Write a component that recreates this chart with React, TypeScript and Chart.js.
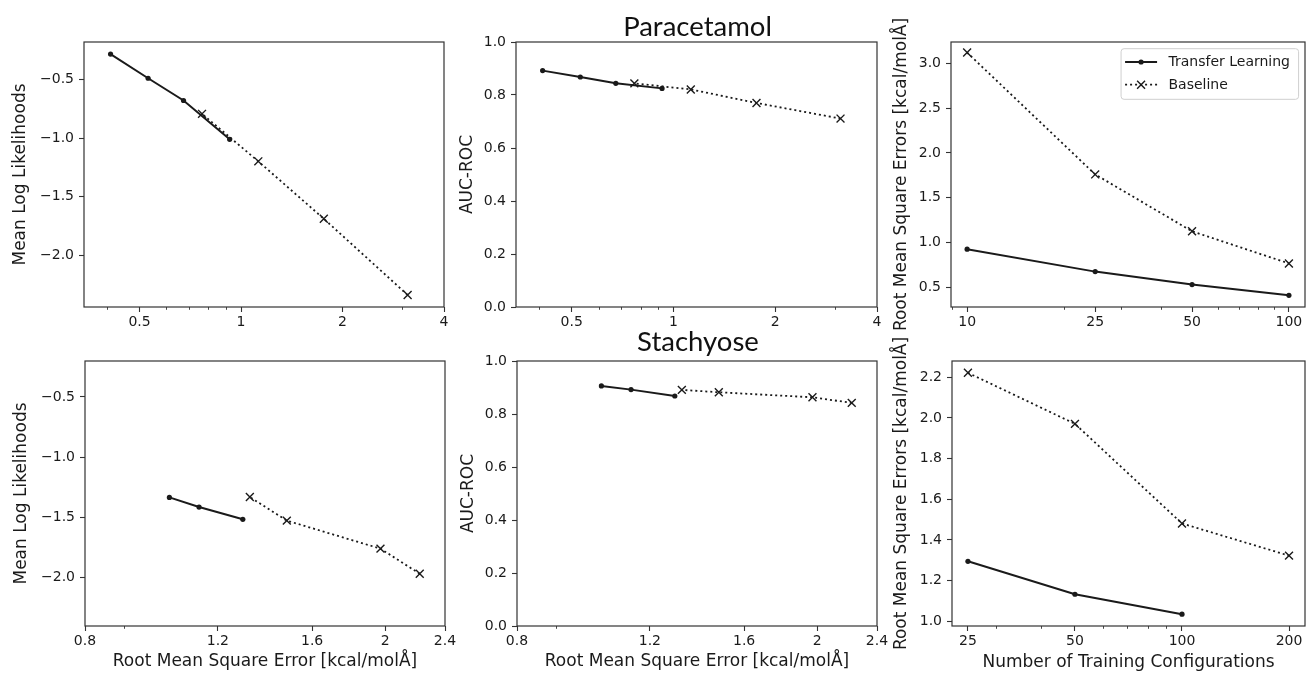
import React, { useEffect, useRef } from 'react';
import { Chart, registerables } from 'chart.js';

Chart.register(...registerables);

// ---------------- data ----------------
const seriesLabels = ['Transfer Learning', 'Baseline'];

// Paracetamol (training sizes 10, 25, 50, 100)
const paraTrainSizes = [10, 25, 50, 100];
const paraTlRmse = [0.925, 0.675, 0.53, 0.41];
const paraTlMll = [-1.011, -0.679, -0.489, -0.282];
const paraTlAuc = [0.825, 0.844, 0.868, 0.892];
const paraBlRmse = [3.12, 1.76, 1.125, 0.766];
const paraBlMll = [-2.341, -1.69, -1.199, -0.793];
const paraBlAuc = [0.711, 0.77, 0.821, 0.844];

// Stachyose
const stachTlTrainSizes = [25, 50, 100];
const stachBlTrainSizes = [25, 50, 100, 200];
const stachTlRmse = [1.295, 1.133, 1.035];
const stachTlMll = [-1.517, -1.415, -1.335];
const stachTlAuc = [0.868, 0.892, 0.906];
const stachBlRmse = [2.222, 1.971, 1.481, 1.323];
const stachBlMll = [-1.97, -1.761, -1.528, -1.332];
const stachBlAuc = [0.842, 0.863, 0.882, 0.891];

// ticks
const paraRmseTicks = [0.5, 1, 2, 4];
const paraRmseMinor = [0.4, 0.6, 0.7, 0.8, 0.9, 3];
const stachRmseTicks = [0.8, 1.2, 1.6, 2, 2.4];
const stachRmseMinor = [0.9];
const mllTicks = [-2.0, -1.5, -1.0, -0.5];
const aucTicks = [0, 0.2, 0.4, 0.6, 0.8, 1.0];
const paraSizeTicks = [10, 25, 50, 100];
const paraSizeMinor = [9, 20, 30, 40, 60, 70, 80, 90];
const paraRmseYTicks = [0.5, 1.0, 1.5, 2.0, 2.5, 3.0];
const stachSizeTicks = [25, 50, 100, 200];
const stachSizeMinor = [30, 40, 60, 70, 80, 90];
const stachRmseYTicks = [1.0, 1.2, 1.4, 1.6, 1.8, 2.0, 2.2];

// texts
const titles = ['Paracetamol', 'Stachyose'];
const mllLabel = 'Mean Log Likelihoods';
const aucLabel = 'AUC-ROC';
const rmseYLabel = 'Root Mean Square Errors [kcal/molÅ]';
const rmseXLabel = 'Root Mean Square Error [kcal/molÅ]';
const sizeXLabel = 'Number of Training Configurations';

// ---------------- layout ----------------
const W = 1312;
const H = 673;
const FONT = "'DejaVu Sans', sans-serif";
const INK = '#1a1a1a';

const pts = (xs: number[], ys: number[]) => xs.map((x, i) => ({ x, y: ys[i] }));
const fmtX = (v: number) => String(v);
const fmtY = (v: number) => v.toFixed(1).replace('-', '\u2212');

type PanelCfg = {
  plot: [number, number, number, number];
  yW: number;
  xH: number;
  xType: 'linear' | 'logarithmic';
  xMin: number; xMax: number; xTicks: number[]; xMinor: number[];
  yMin: number; yMax: number; yTicks: number[];
  yTitle: string; xTitle?: string;
  title?: string; titleOffset?: number;
  legend?: boolean;
  tl: { x: number; y: number }[];
  bl: { x: number; y: number }[];
};

const panels: PanelCfg[] = [
  {
    plot: [84, 42, 444, 307], yW: 73.7, xH: 30, xType: 'logarithmic',
    xMin: 0.342, xMax: 4, xTicks: paraRmseTicks, xMinor: paraRmseMinor,
    yMin: -2.444, yMax: -0.179, yTicks: mllTicks, yTitle: mllLabel,
    tl: pts(paraTlRmse, paraTlMll), bl: pts(paraBlRmse, paraBlMll),
  },
  {
    plot: [516, 42, 877, 307], yW: 58.9, xH: 30, xType: 'logarithmic',
    xMin: 0.342, xMax: 4, xTicks: paraRmseTicks, xMinor: paraRmseMinor,
    yMin: 0, yMax: 1, yTicks: aucTicks, yTitle: aucLabel,
    title: titles[0], titleOffset: 6.5,
    tl: pts(paraTlRmse, paraTlAuc), bl: pts(paraBlRmse, paraBlAuc),
  },
  {
    plot: [951, 42, 1311, 307], yW: 59.2, xH: 30, xType: 'logarithmic',
    xMin: 8.91, xMax: 112.2, xTicks: paraSizeTicks, xMinor: paraSizeMinor,
    yMin: 0.28, yMax: 3.238, yTicks: paraRmseYTicks, yTitle: rmseYLabel,
    legend: true,
    tl: pts(paraTrainSizes, paraTlRmse), bl: pts(paraTrainSizes, paraBlRmse),
  },
  {
    plot: [85, 361, 445, 626], yW: 73.5, xH: 45.9, xType: 'logarithmic',
    xMin: 0.8, xMax: 2.4, xTicks: stachRmseTicks, xMinor: stachRmseMinor,
    yMin: -2.404, yMax: -0.201, yTicks: mllTicks, yTitle: mllLabel, xTitle: rmseXLabel,
    tl: pts(stachTlRmse, stachTlMll), bl: pts(stachBlRmse, stachBlMll),
  },
  {
    plot: [517, 361, 877, 626], yW: 58.9, xH: 45.9, xType: 'logarithmic',
    xMin: 0.8, xMax: 2.4, xTicks: stachRmseTicks, xMinor: stachRmseMinor,
    yMin: 0, yMax: 1, yTicks: aucTicks, yTitle: aucLabel, xTitle: rmseXLabel,
    title: titles[1], titleOffset: 10,
    tl: pts(stachTlRmse, stachTlAuc), bl: pts(stachBlRmse, stachBlAuc),
  },
  {
    plot: [952, 361, 1311, 626], yW: 60.2, xH: 46.9, xType: 'logarithmic',
    xMin: 22.55, xMax: 221.8, xTicks: stachSizeTicks, xMinor: stachSizeMinor,
    yMin: 0.977, yMax: 2.28, yTicks: stachRmseYTicks, yTitle: rmseYLabel, xTitle: sizeXLabel,
    tl: pts(stachTlTrainSizes, stachTlRmse), bl: pts(stachBlTrainSizes, stachBlRmse),
  },
];

// ---------------- plugin: frame, minor ticks, title, legend ----------------
function drawMarker(ctx: CanvasRenderingContext2D, style: string, x: number, y: number, r: number, lw: number) {
  ctx.save();
  ctx.setLineDash([]);
  ctx.fillStyle = INK;
  ctx.strokeStyle = INK;
  if (style === 'circle') {
    ctx.beginPath();
    ctx.arc(x, y, r, 0, Math.PI * 2);
    ctx.fill();
  } else {
    const o = Math.SQRT1_2 * r;
    ctx.lineWidth = lw;
    ctx.beginPath();
    ctx.moveTo(x - o, y - o); ctx.lineTo(x + o, y + o);
    ctx.moveTo(x + o, y - o); ctx.lineTo(x - o, y + o);
    ctx.stroke();
  }
  ctx.restore();
}

const decorPlugin = {
  id: 'decor',
  afterDraw(chart: any, _args: any, opts: any) {
    const ctx: CanvasRenderingContext2D = chart.ctx;
    const ca = chart.chartArea;
    ctx.save();
    // frame
    ctx.strokeStyle = '#333';
    ctx.lineWidth = 1.2;
    ctx.strokeRect(ca.left, ca.top, ca.right - ca.left, ca.bottom - ca.top);
    // minor ticks
    const xs = chart.scales.x;
    ctx.lineWidth = 0.9;
    ctx.beginPath();
    (opts.minor || []).forEach((v: number) => {
      const px = Math.round(xs.getPixelForValue(v)) + 0.5;
      ctx.moveTo(px, ca.bottom);
      ctx.lineTo(px, ca.bottom + 2.8);
    });
    ctx.stroke();
    // title
    if (opts.title) {
      ctx.font = "27.5px Lato, 'Open Sans', sans-serif";
      ctx.fillStyle = '#111';
      ctx.textAlign = 'center';
      ctx.textBaseline = 'alphabetic';
      ctx.fillText(opts.title, (ca.left + ca.right) / 2 + 1, ca.top - opts.titleOffset);
    }
    // legend
    if (opts.legend) {
      const ds = chart.data.datasets;
      ctx.font = `14px ${FONT}`;
      const tw = Math.max(...ds.map((d: any) => ctx.measureText(d.label).width));
      const bw = 47.4 + tw + 8.6;
      const bh = 50.6;
      const bx = ca.right - 6.4 - bw;
      const by = ca.top + 6.7;
      ctx.beginPath();
      (ctx as any).roundRect(bx, by, bw, bh, 3);
      ctx.fillStyle = 'rgba(255,255,255,0.8)';
      ctx.fill();
      ctx.strokeStyle = '#cfcfcf';
      ctx.lineWidth = 1;
      ctx.stroke();
      ds.forEach((d: any, i: number) => {
        const y = by + 13.3 + i * 22.7;
        ctx.save();
        ctx.strokeStyle = INK;
        ctx.lineWidth = d.borderWidth;
        ctx.setLineDash(d.borderDash || []);
        ctx.beginPath();
        ctx.moveTo(bx + 4, y);
        ctx.lineTo(bx + 36, y);
        ctx.stroke();
        ctx.restore();
        drawMarker(ctx, d.pointStyle, bx + 20, y, d.pointRadius, d.pointBorderWidth);
        ctx.fillStyle = INK;
        ctx.textAlign = 'left';
        ctx.textBaseline = 'middle';
        ctx.fillText(d.label, bx + 47.4, y + 0.5);
      });
    }
    ctx.restore();
  },
};

function makeConfig(p: PanelCfg): any {
  const [l, t, r, b] = p.plot;
  const tickFont = { family: FONT, size: 14 };
  const titleFont = { family: FONT, size: 17 };
  return {
    type: 'scatter',
    data: {
      datasets: [
        {
          label: seriesLabels[0], data: p.tl, showLine: true,
          borderColor: INK, backgroundColor: INK, borderWidth: 2,
          pointStyle: 'circle', pointRadius: 2.6, pointBorderWidth: 0, order: 1,
        },
        {
          label: seriesLabels[1], data: p.bl, showLine: true,
          borderColor: INK, backgroundColor: INK, borderWidth: 1.8, borderDash: [2, 3],
          pointStyle: 'crossRot', pointRadius: 5.6, pointBorderWidth: 1.4, order: 0,
        },
      ],
    },
    options: {
      responsive: false,
      animation: false,
      events: [],
      layout: { padding: { left: l - p.yW, top: t, right: W - r, bottom: H - b - p.xH } },
      scales: {
        x: {
          type: p.xType, position: 'bottom', min: p.xMin, max: p.xMax, bounds: 'data',
          afterBuildTicks: (s: any) => { s.ticks = p.xTicks.map((v) => ({ value: v })); },
          afterFit: (s: any) => { s.height = p.xH; s.paddingLeft = 0; s.paddingRight = 0; },
          ticks: { font: tickFont, color: INK, padding: 2, maxRotation: 0, autoSkip: false, callback: (v: number) => fmtX(v) },
          grid: { drawOnChartArea: false, drawTicks: true, tickLength: 5, tickColor: '#333', tickWidth: 1.1 },
          border: { display: false },
          title: { display: !!p.xTitle, text: p.xTitle || '', font: titleFont, color: INK, padding: 0 },
        },
        y: {
          type: 'linear', position: 'left', min: p.yMin, max: p.yMax, bounds: 'data',
          afterBuildTicks: (s: any) => { s.ticks = p.yTicks.map((v) => ({ value: v })); },
          afterFit: (s: any) => { s.width = p.yW; s.paddingTop = 0; s.paddingBottom = 0; },
          ticks: { font: tickFont, color: INK, padding: 5, autoSkip: false, callback: (v: number) => fmtY(v) },
          grid: { drawOnChartArea: false, drawTicks: true, tickLength: 5, tickColor: '#333', tickWidth: 1.1 },
          border: { display: false },
          title: { display: true, text: p.yTitle, font: titleFont, color: INK, padding: 0 },
        },
      },
      plugins: {
        legend: { display: false },
        tooltip: { enabled: false },
        decor: { minor: p.xMinor, title: p.title, titleOffset: p.titleOffset || 0, legend: !!p.legend },
      },
    },
    plugins: [decorPlugin],
  };
}

function PanelCanvas({ cfg }: { cfg: PanelCfg }) {
  const ref = useRef<HTMLCanvasElement>(null);
  useEffect(() => {
    const chart = new Chart(ref.current as HTMLCanvasElement, makeConfig(cfg));
    return () => chart.destroy();
  }, [cfg]);
  return (
    <canvas
      ref={ref}
      width={W}
      height={H}
      style={{ position: 'absolute', left: 0, top: 0, width: W, height: H }}
    />
  );
}

export default function App() {
  return (
    <div style={{ position: 'absolute', left: 0, top: 0, width: W, height: H, background: '#fff', overflow: 'hidden' }}>
      {panels.map((p, i) => (
        <PanelCanvas key={i} cfg={p} />
      ))}
    </div>
  );
}
